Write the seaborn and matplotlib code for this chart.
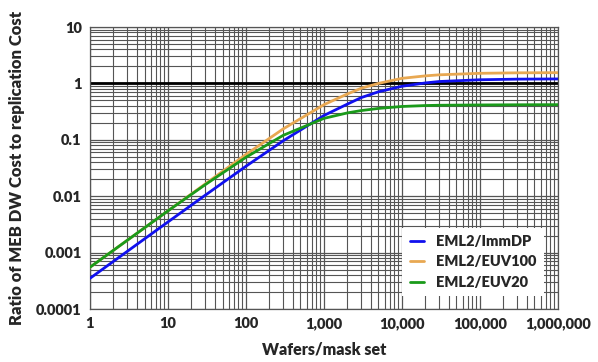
import matplotlib
matplotlib.use("Agg")
import matplotlib.pyplot as plt
import matplotlib.ticker as mticker
import seaborn as sns
import pandas as pd
import numpy as np

# ---- data ----
wafers = [1, 3, 10, 30, 100, 300, 1000, 2000, 3000, 5000, 10000, 20000, 30000, 100000, 300000, 1000000]
immdp = [0.00035, 0.00105, 0.0035, 0.0104, 0.034, 0.096, 0.27, 0.43, 0.56, 0.71, 0.89, 1.02, 1.08, 1.16, 1.19, 1.2]
euv100 = [0.00055, 0.00165, 0.0055, 0.0165, 0.055, 0.156, 0.42, 0.65, 0.82, 1.0, 1.23, 1.36, 1.42, 1.51, 1.54, 1.55]
euv20 = [0.00055, 0.00165, 0.0055, 0.016, 0.049, 0.12, 0.24, 0.30, 0.33, 0.36, 0.39, 0.405, 0.41, 0.415, 0.418, 0.42]
series_names = ["EML2/ImmDP", "EML2/EUV100", "EML2/EUV20"]
series_colors = ["#1010ee", "#e8a852", "#1a9a1a"]
ref_level = 1
x_ticks = [1, 10, 100, 1000, 10000, 100000, 1000000]
x_ticklabels = ["1", "10", "100", "1,000", "10,000", "100,000", "1,000,000"]
y_ticks = [0.0001, 0.001, 0.01, 0.1, 1, 10]
y_ticklabels = ["0.0001", "0.001", "0.01", "0.1", "1", "10"]

df = pd.concat([
    pd.DataFrame({"wafers": wafers, "ratio": vals, "series": name})
    for name, vals in zip(series_names, [immdp, euv100, euv20])
])

sns.set_style("white")
plt.rcParams["font.family"] = ["Lato", "DejaVu Sans"]
W = "heavy"

fig = plt.figure(figsize=(5.98, 3.62), dpi=100)
ax = fig.add_axes([0.1505, 0.1464, 0.7825, 0.779])

ax.set_xscale("log")
ax.set_yscale("log")
ax.set_xlim(1, 1e6)
ax.set_ylim(1e-4, 10)

ax.grid(True, which="major", color="#555555", linewidth=0.9)
ax.grid(True, which="minor", color="#555555", linewidth=0.8)
ax.xaxis.set_minor_locator(mticker.LogLocator(base=10, subs=np.arange(2, 10), numticks=20))
ax.yaxis.set_minor_locator(mticker.LogLocator(base=10, subs=np.arange(2, 10), numticks=20))
ax.set_axisbelow(True)

ax.axhline(ref_level, color="black", linewidth=2, zorder=2)

sns.lineplot(data=df, x="wafers", y="ratio", hue="series", hue_order=series_names,
             palette=series_colors, linewidth=2, ax=ax, zorder=3, legend=True)

ax.set_xticks(x_ticks)
ax.set_xticklabels(x_ticklabels, fontsize=10.5, fontweight=W)
ax.set_yticks(y_ticks)
ax.set_yticklabels(y_ticklabels, fontsize=10.5, fontweight=W)
ax.tick_params(which="both", length=0, pad=6)
ax.xaxis.set_minor_formatter(mticker.NullFormatter())
ax.yaxis.set_minor_formatter(mticker.NullFormatter())

for s in ax.spines.values():
    s.set_color("#555555")
    s.set_linewidth(0.9)

ax.set_xlabel("Wafers/mask set", fontsize=11.5, fontweight=W, labelpad=8)
ax.set_ylabel("Ratio of MEB DW Cost to replication Cost", fontsize=12, fontweight=W, labelpad=8)

leg = ax.legend(loc="lower right", bbox_to_anchor=(0.985, 0.02), frameon=True, fancybox=False,
                framealpha=1, edgecolor="white", fontsize=10.5, handlelength=1.0,
                borderpad=0.5, labelspacing=0.5)
for t in leg.get_texts():
    t.set_fontweight(W)
leg.get_frame().set_linewidth(0)

fig.savefig("out.png", dpi=100)
